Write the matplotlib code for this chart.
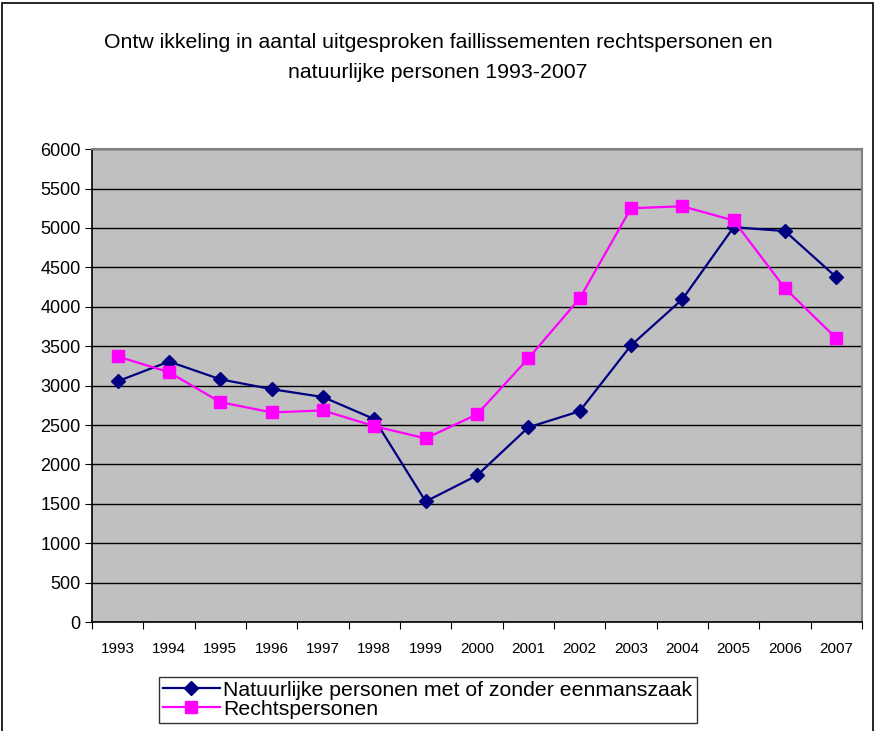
import matplotlib.pyplot as plt
from matplotlib.patches import Rectangle

plt.rcParams['font.family'] = ['Liberation Sans', 'DejaVu Sans']

years = ["1993", "1994", "1995", "1996", "1997", "1998", "1999", "2000",
         "2001", "2002", "2003", "2004", "2005", "2006", "2007"]
natuurlijk = [3055, 3305, 3080, 2955, 2855, 2575, 1530, 1860,
              2470, 2675, 3510, 4095, 5010, 4960, 4375]
recht = [3370, 3170, 2790, 2660, 2685, 2485, 2330, 2635,
         3345, 4105, 5250, 5275, 5095, 4235, 3600]

fig = plt.figure(figsize=(8.76, 7.31), dpi=100)
ax = fig.add_axes([0.105, 0.149, 0.879, 0.647])

x = range(len(years))
ax.plot(x, natuurlijk, color="#000080", marker="D", markersize=7.5, lw=1.6,
        label="Natuurlijke personen met of zonder eenmanszaak")
ax.plot(x, recht, color="#FF00FF", marker="s", markersize=8.5, lw=1.6,
        label="Rechtspersonen")

ax.set_facecolor("#C0C0C0")
ax.set_xlim(-0.5, len(years) - 0.5)
ax.set_ylim(0, 6000)
ax.set_yticks(range(0, 6001, 500))
ax.tick_params(axis="y", labelsize=13, length=5, direction="out", pad=3)
ax.yaxis.grid(True, color="black", lw=1)
ax.set_axisbelow(True)

ax.set_xticks([i - 0.5 for i in range(len(years) + 1)])
ax.set_xticklabels([])
ax.set_xticks(list(x), minor=True)
ax.set_xticklabels(years, minor=True, fontsize=11)
ax.tick_params(axis="x", which="major", length=5, direction="out")
ax.tick_params(axis="x", which="minor", length=0, pad=14)

for s in ["top", "right"]:
    ax.spines[s].set_color("#808080")
    ax.spines[s].set_linewidth(1.5)
for s in ["left", "bottom"]:
    ax.spines[s].set_color("black")
    ax.spines[s].set_linewidth(1.2)

fig.text(0.5, 0.942, "Ontw ikkeling in aantal uitgesproken faillissementen rechtspersonen en",
         ha="center", va="center", fontsize=15.3)
fig.text(0.5, 0.901, "natuurlijke personen 1993-2007", ha="center", va="center", fontsize=15.3)

leg = fig.legend(loc="upper left", bbox_to_anchor=(0.181, 0.0745), fontsize=15.3,
                 frameon=True, fancybox=False, edgecolor="black", borderpad=0.2,
                 labelspacing=0.0, handlelength=2.7, handletextpad=0.15,
                 borderaxespad=0)
leg.get_frame().set_linewidth(1)

fig.patches.append(Rectangle((0.002, -0.05), 0.995, 1.046, transform=fig.transFigure,
                             fill=False, edgecolor="black", lw=1.2))

fig.savefig("out.png", dpi=100)
